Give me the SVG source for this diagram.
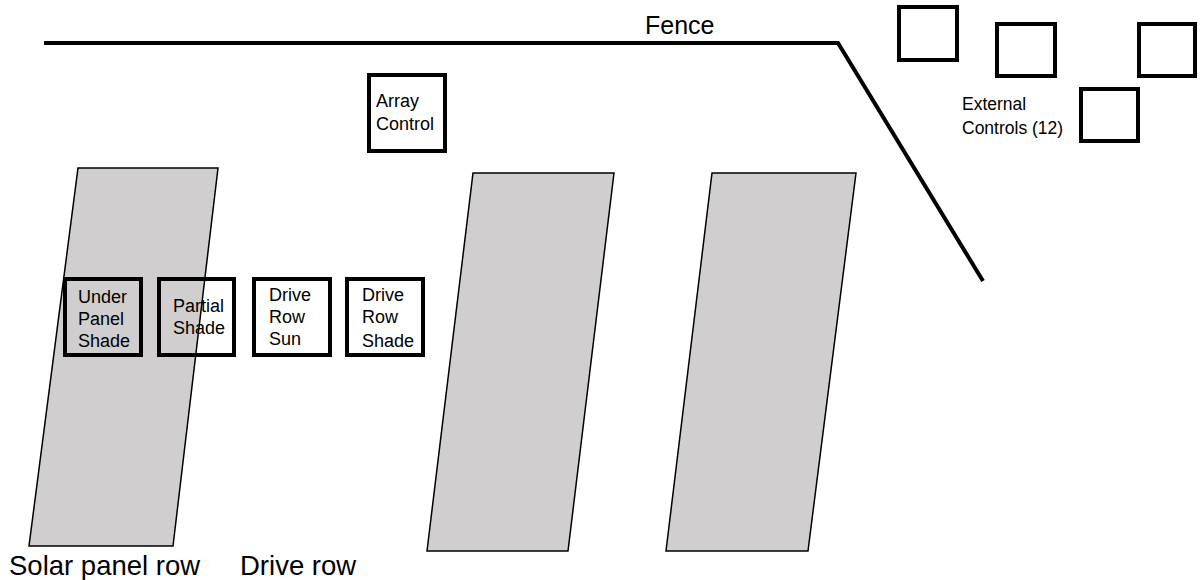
<svg xmlns="http://www.w3.org/2000/svg" width="1200" height="580" viewBox="0 0 1200 580">
<style>
.panel{fill:#d0cece;stroke:#000;stroke-width:1.5}
.box{fill:none;stroke:#000;stroke-width:4}
.wbox{fill:#fff;stroke:#000;stroke-width:4}
.t{font-family:"Liberation Sans",Arial,sans-serif;font-size:18px;fill:#000}
.big{font-family:"Liberation Sans",Arial,sans-serif;font-size:27.5px;fill:#000}
</style>
<rect width="1200" height="580" fill="#fff"/>
<g id="panels">
<polygon class="panel" points="78,168 218,168 173,546 29,546"/>
<polygon class="panel" points="473,173 614,173 568,551 427,551"/>
<polygon class="panel" points="712,173 856,173 808,551 666,551"/>
</g>
<g id="fence">
<polyline points="44,43 838,43 983,281" fill="none" stroke="#000" stroke-width="4"/>
<text class="big" x="645" y="34" style="font-size:25px">Fence</text>
</g>
<g id="array-control">
<rect class="wbox" x="369" y="75" width="76" height="76"/>
<text class="t" x="376" y="107">Array</text>
<text class="t" x="376" y="130">Control</text>
</g>
<g id="under-panel-shade">
<rect class="box" x="65" y="279" width="76" height="76"/>
<text class="t" x="78" y="303">Under</text>
<text class="t" x="78" y="325">Panel</text>
<text class="t" x="78" y="347">Shade</text>
</g>
<g id="partial-shade">
<rect class="box" x="159" y="279" width="75" height="76"/>
<text class="t" x="173" y="312">Partial</text>
<text class="t" x="173" y="334">Shade</text>
</g>
<g id="drive-row-sun">
<rect class="wbox" x="254" y="279" width="76" height="76"/>
<text class="t" x="269" y="301">Drive</text>
<text class="t" x="269" y="323">Row</text>
<text class="t" x="269" y="345">Sun</text>
</g>
<g id="drive-row-shade">
<rect class="wbox" x="347" y="279" width="76" height="76"/>
<text class="t" x="362" y="301">Drive</text>
<text class="t" x="362" y="323">Row</text>
<text class="t" x="362" y="347">Shade</text>
</g>
<g id="external-controls">
<rect class="wbox" x="899" y="7" width="58" height="53"/>
<rect class="wbox" x="997" y="24" width="58" height="52"/>
<rect class="wbox" x="1139" y="24" width="56" height="52"/>
<rect class="wbox" x="1081" y="89" width="57" height="52"/>
<text class="t" x="962" y="110" style="font-size:17.5px">External</text>
<text class="t" x="962" y="134" style="font-size:17.5px">Controls (12)</text>
</g>
<g id="labels">
<text class="big" x="9" y="575">Solar panel row</text>
<text class="big" x="240" y="575">Drive row</text>
</g>
</svg>
